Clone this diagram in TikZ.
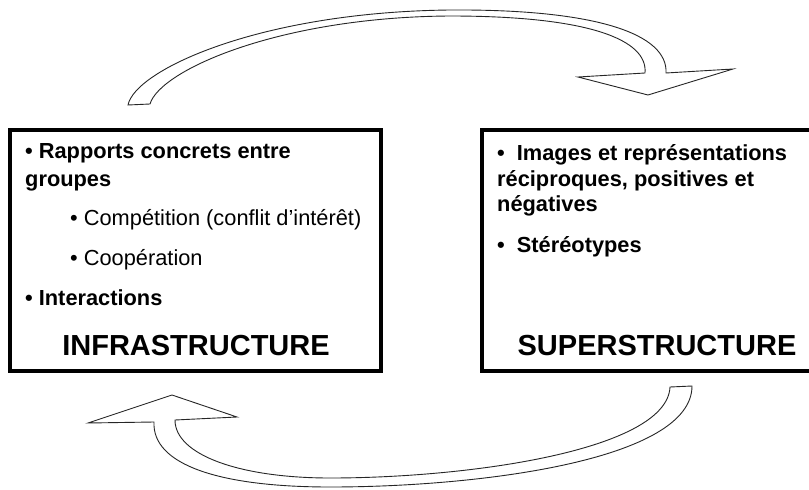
\documentclass[tikz,border=0pt]{standalone}
\usepackage{fontspec}
\setmainfont{Liberation Sans}
\begin{document}
\begin{tikzpicture}[x=1pt,y=-1pt,
  box/.style={draw=black,line width=4pt},
  blockarrow/.style={draw=black!85,line width=0.9pt,fill=white,line join=miter},
  bt/.style={font=\fontsize{21.8}{26}\selectfont\bfseries,anchor=base west,inner sep=0pt},
  rt/.style={font=\fontsize{21.8}{26}\selectfont,anchor=base west,inner sep=0pt},
  title/.style={font=\fontsize{29}{34}\selectfont\bfseries,anchor=base,inner sep=0pt}]
\useasboundingbox (0,0) rectangle (809,490);

% boxes
\draw[box] (10,130) rectangle (381,371);
\draw[box] (482,130) rectangle (818,371);

% left box text
\node[bt] (l1) at (25,158) {• Rapports concrets entre};
\node[bt] (l2) at (25,186) {groupes};
\node[rt] (l3) at (70,225) {• Compétition (conflit d'intérêt)};
\node[rt] (l4) at (70,265) {• Coopération};
\node[bt] (l5) at (25,305) {• Interactions};
\node[title] (infra) at (196,355) {INFRASTRUCTURE};

% right box text
\node[bt] (r1) at (497,160) {•\ \ Images et représentations};
\node[bt] (r2) at (497,186) {réciproques, positives et};
\node[bt] (r3) at (497,211) {négatives};
\node[bt] (r4) at (497,252) {•\ \ Stéréotypes};
\node[title] (super) at (657,355) {SUPERSTRUCTURE};

% top block arrow (left to right)
\draw[blockarrow] (128,105)
  .. controls (135,70) and (260,12) .. (450,10)
  .. controls (600,9) and (668,35) .. (666,73)
  -- (733,69) -- (648,95) -- (578,77) -- (645,73)
  .. controls (648,40) and (590,16) .. (450,16)
  .. controls (280,17) and (160,70) .. (150,104)
  -- cycle;

% bottom block arrow (right to left)
\draw[blockarrow] (692,386) -- (670,387)
  .. controls (667,450) and (470,478) .. (330,478)
  .. controls (240,478) and (175,455) .. (175,420)
  -- (237,417) -- (172,395) -- (88,423) -- (154,422)
  .. controls (152,465) and (220,487) .. (330,487)
  .. controls (480,487) and (692,460) .. (692,386)
  -- cycle;
\end{tikzpicture}
\end{document}
